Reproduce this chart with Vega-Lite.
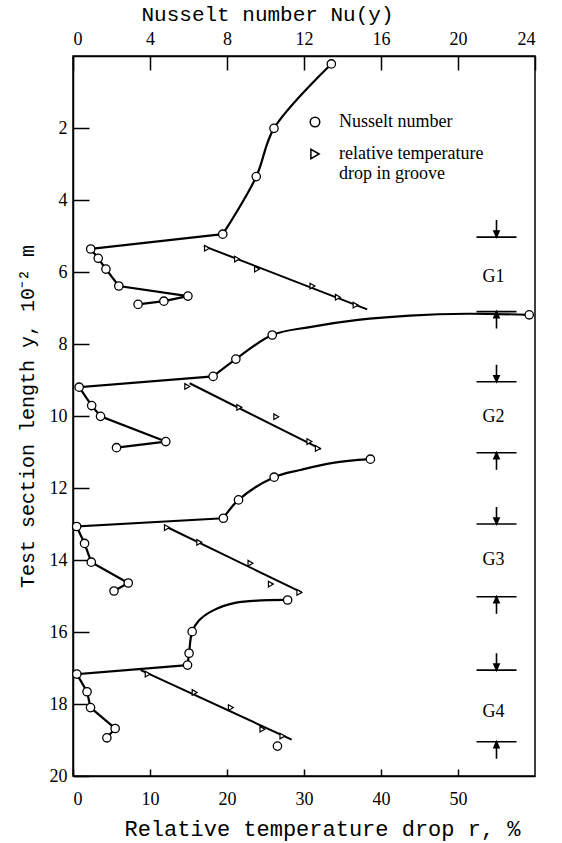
{
  "$schema": "https://vega.github.io/schema/vega-lite/v6.json",
  "width": 462,
  "height": 720,
  "autosize": {"type": "none"},
  "padding": {"left": 73, "top": 56, "right": 27, "bottom": 67},
  "background": "white",
  "config": {
    "view": {"stroke": "black", "strokeWidth": 1.5},
    "axis": {
      "domainColor": "black", "domainWidth": 1.5,
      "tickColor": "black", "tickWidth": 1.5,
      "labelColor": "black", "titleColor": "black",
      "labelFont": "Liberation Serif", "labelFontSize": 18,
      "titleFont": "Liberation Mono", "titleFontSize": 21, "titleFontWeight": "normal",
      "grid": false
    }
  },
  "datasets": {
    "nusselt": [
      {"g": "G1", "Nu": 13.42, "y": 0.22}, {"g": "G1", "Nu": 10.44, "y": 2.01}, {"g": "G1", "Nu": 9.52, "y": 3.35},
      {"g": "G1", "Nu": 7.78, "y": 4.95}, {"g": "G1", "Nu": 0.92, "y": 5.36}, {"g": "G1", "Nu": 1.31, "y": 5.62},
      {"g": "G1", "Nu": 1.71, "y": 5.92}, {"g": "G1", "Nu": 2.38, "y": 6.39}, {"g": "G1", "Nu": 5.97, "y": 6.67},
      {"g": "G1", "Nu": 4.72, "y": 6.81}, {"g": "G1", "Nu": 3.38, "y": 6.9},
      {"g": "G2", "Nu": 23.7, "y": 7.19}, {"g": "G2", "Nu": 10.35, "y": 7.75}, {"g": "G2", "Nu": 8.46, "y": 8.42},
      {"g": "G2", "Nu": 7.28, "y": 8.9}, {"g": "G2", "Nu": 0.32, "y": 9.2}, {"g": "G2", "Nu": 0.97, "y": 9.71},
      {"g": "G2", "Nu": 1.43, "y": 10.01}, {"g": "G2", "Nu": 4.82, "y": 10.71}, {"g": "G2", "Nu": 2.26, "y": 10.88},
      {"g": "G3", "Nu": 15.45, "y": 11.2}, {"g": "G3", "Nu": 10.45, "y": 11.7}, {"g": "G3", "Nu": 8.6, "y": 12.33},
      {"g": "G3", "Nu": 7.81, "y": 12.84}, {"g": "G3", "Nu": 0.19, "y": 13.07}, {"g": "G3", "Nu": 0.6, "y": 13.54},
      {"g": "G3", "Nu": 0.95, "y": 14.06}, {"g": "G3", "Nu": 2.87, "y": 14.64}, {"g": "G3", "Nu": 2.13, "y": 14.86},
      {"g": "G4", "Nu": 11.15, "y": 15.11}, {"g": "G4", "Nu": 6.19, "y": 15.99}, {"g": "G4", "Nu": 6.03, "y": 16.59},
      {"g": "G4", "Nu": 5.95, "y": 16.92}, {"g": "G4", "Nu": 0.2, "y": 17.17}, {"g": "G4", "Nu": 0.73, "y": 17.66},
      {"g": "G4", "Nu": 0.91, "y": 18.1}, {"g": "G4", "Nu": 2.19, "y": 18.68}, {"g": "G4", "Nu": 1.76, "y": 18.94},
      {"g": "G4", "Nu": 10.62, "y": 19.17}
    ],
    "nuPath": [
      {"seg": "G1 curve", "part": "curve", "k": 1, "Nu": 13.42, "y": 0.22},
      {"seg": "G1 curve", "part": "curve", "k": 2, "Nu": 10.44, "y": 2.01},
      {"seg": "G1 curve", "part": "curve", "k": 3, "Nu": 9.52, "y": 3.35},
      {"seg": "G1 curve", "part": "curve", "k": 4, "Nu": 7.78, "y": 4.95},
      {"seg": "G1 steps", "part": "steps", "k": 1, "Nu": 7.78, "y": 4.95},
      {"seg": "G1 steps", "part": "steps", "k": 2, "Nu": 0.92, "y": 5.36},
      {"seg": "G1 steps", "part": "steps", "k": 3, "Nu": 1.31, "y": 5.62},
      {"seg": "G1 steps", "part": "steps", "k": 4, "Nu": 1.71, "y": 5.92},
      {"seg": "G1 steps", "part": "steps", "k": 5, "Nu": 2.38, "y": 6.39},
      {"seg": "G1 steps", "part": "steps", "k": 6, "Nu": 5.97, "y": 6.67},
      {"seg": "G1 steps", "part": "steps", "k": 7, "Nu": 4.72, "y": 6.81},
      {"seg": "G1 steps", "part": "steps", "k": 8, "Nu": 3.38, "y": 6.9},
      {"seg": "G2 curve", "part": "curve", "k": 1, "Nu": 23.7, "y": 7.19},
      {"seg": "G2 curve", "part": "curve", "k": 2, "Nu": 20.5, "y": 7.16},
      {"seg": "G2 curve", "part": "curve", "k": 3, "Nu": 17.5, "y": 7.21},
      {"seg": "G2 curve", "part": "curve", "k": 4, "Nu": 14.8, "y": 7.33},
      {"seg": "G2 curve", "part": "curve", "k": 5, "Nu": 12.3, "y": 7.53},
      {"seg": "G2 curve", "part": "curve", "k": 6, "Nu": 10.35, "y": 7.75},
      {"seg": "G2 curve", "part": "curve", "k": 7, "Nu": 8.46, "y": 8.42},
      {"seg": "G2 curve", "part": "curve", "k": 8, "Nu": 7.28, "y": 8.9},
      {"seg": "G2 steps", "part": "steps", "k": 1, "Nu": 7.28, "y": 8.9},
      {"seg": "G2 steps", "part": "steps", "k": 2, "Nu": 0.32, "y": 9.2},
      {"seg": "G2 steps", "part": "steps", "k": 3, "Nu": 0.97, "y": 9.71},
      {"seg": "G2 steps", "part": "steps", "k": 4, "Nu": 1.43, "y": 10.01},
      {"seg": "G2 steps", "part": "steps", "k": 5, "Nu": 4.82, "y": 10.71},
      {"seg": "G2 steps", "part": "steps", "k": 6, "Nu": 2.26, "y": 10.88},
      {"seg": "G3 curve", "part": "curve", "k": 1, "Nu": 15.45, "y": 11.2},
      {"seg": "G3 curve", "part": "curve", "k": 2, "Nu": 13.5, "y": 11.3},
      {"seg": "G3 curve", "part": "curve", "k": 3, "Nu": 11.8, "y": 11.5},
      {"seg": "G3 curve", "part": "curve", "k": 4, "Nu": 10.45, "y": 11.7},
      {"seg": "G3 curve", "part": "curve", "k": 5, "Nu": 8.6, "y": 12.33},
      {"seg": "G3 curve", "part": "curve", "k": 6, "Nu": 7.81, "y": 12.84},
      {"seg": "G3 steps", "part": "steps", "k": 1, "Nu": 7.81, "y": 12.84},
      {"seg": "G3 steps", "part": "steps", "k": 2, "Nu": 0.19, "y": 13.07},
      {"seg": "G3 steps", "part": "steps", "k": 3, "Nu": 0.6, "y": 13.54},
      {"seg": "G3 steps", "part": "steps", "k": 4, "Nu": 0.95, "y": 14.06},
      {"seg": "G3 steps", "part": "steps", "k": 5, "Nu": 2.87, "y": 14.64},
      {"seg": "G3 steps", "part": "steps", "k": 6, "Nu": 2.13, "y": 14.86},
      {"seg": "G4 curve", "part": "curve", "k": 1, "Nu": 11.15, "y": 15.11},
      {"seg": "G4 curve", "part": "curve", "k": 2, "Nu": 8.42, "y": 15.19},
      {"seg": "G4 curve", "part": "curve", "k": 3, "Nu": 7.21, "y": 15.42},
      {"seg": "G4 curve", "part": "curve", "k": 4, "Nu": 6.53, "y": 15.69},
      {"seg": "G4 curve", "part": "curve", "k": 5, "Nu": 6.19, "y": 15.99},
      {"seg": "G4 curve", "part": "curve", "k": 6, "Nu": 6.03, "y": 16.59},
      {"seg": "G4 curve", "part": "curve", "k": 7, "Nu": 5.95, "y": 16.92},
      {"seg": "G4 steps", "part": "steps", "k": 1, "Nu": 5.95, "y": 16.92},
      {"seg": "G4 steps", "part": "steps", "k": 2, "Nu": 0.2, "y": 17.17},
      {"seg": "G4 steps", "part": "steps", "k": 3, "Nu": 0.73, "y": 17.66},
      {"seg": "G4 steps", "part": "steps", "k": 4, "Nu": 0.91, "y": 18.1},
      {"seg": "G4 steps", "part": "steps", "k": 5, "Nu": 2.19, "y": 18.68},
      {"seg": "G4 steps", "part": "steps", "k": 6, "Nu": 1.76, "y": 18.94}
    ],
    "drop": [
      {"g": "G1", "r": 17.4, "y": 5.34}, {"g": "G1", "r": 21.3, "y": 5.64}, {"g": "G1", "r": 23.9, "y": 5.92},
      {"g": "G1", "r": 31.1, "y": 6.39}, {"g": "G1", "r": 34.4, "y": 6.7}, {"g": "G1", "r": 36.7, "y": 6.92},
      {"g": "G2", "r": 14.84, "y": 9.18}, {"g": "G2", "r": 21.6, "y": 9.76}, {"g": "G2", "r": 26.4, "y": 10.02},
      {"g": "G2", "r": 30.7, "y": 10.71}, {"g": "G2", "r": 31.8, "y": 10.9},
      {"g": "G3", "r": 12.2, "y": 13.1}, {"g": "G3", "r": 16.4, "y": 13.51}, {"g": "G3", "r": 23.05, "y": 14.09},
      {"g": "G3", "r": 25.7, "y": 14.67}, {"g": "G3", "r": 29.4, "y": 14.9},
      {"g": "G4", "r": 9.7, "y": 17.17}, {"g": "G4", "r": 15.8, "y": 17.68}, {"g": "G4", "r": 20.5, "y": 18.1},
      {"g": "G4", "r": 24.6, "y": 18.7}, {"g": "G4", "r": 27.2, "y": 18.89}
    ],
    "dropFit": [
      {"g": "G1", "k": 1, "r": 17.0, "y": 5.28}, {"g": "G1", "k": 2, "r": 38.2, "y": 7.04},
      {"g": "G2", "k": 1, "r": 15.15, "y": 9.09}, {"g": "G2", "k": 2, "r": 32.2, "y": 10.92},
      {"g": "G3", "k": 1, "r": 12.05, "y": 13.07}, {"g": "G3", "k": 2, "r": 29.7, "y": 14.9},
      {"g": "G4", "k": 1, "r": 8.8, "y": 17.06}, {"g": "G4", "k": 2, "r": 28.4, "y": 18.99}
    ],
    "bounds": [
      {"g": "G1", "y": 5.03, "dir": "down"}, {"g": "G1", "y": 7.1, "dir": "up"},
      {"g": "G2", "y": 9.05, "dir": "down"}, {"g": "G2", "y": 11.02, "dir": "up"},
      {"g": "G3", "y": 13.0, "dir": "down"}, {"g": "G3", "y": 15.02, "dir": "up"},
      {"g": "G4", "y": 17.06, "dir": "down"}, {"g": "G4", "y": 19.05, "dir": "up"}
    ],
    "grooves": [
      {"name": "G1", "y": 6.13}, {"name": "G2", "y": 10.02}, {"name": "G3", "y": 14.0}, {"name": "G4", "y": 18.22}
    ]
  },
  "layer": [
    {
      "layer": [
        {
          "data": {"name": "nuPath"},
          "transform": [{"filter": "datum.part == 'curve'"}],
          "mark": {"type": "line", "interpolate": "catmull-rom", "color": "black", "strokeWidth": 2.2},
          "encoding": {
            "x": {"field": "Nu", "type": "quantitative", "scale": {"domain": [0, 24], "nice": false}},
            "y": {"field": "y", "type": "quantitative", "scale": {"domain": [0, 20], "reverse": true, "nice": false}},
            "detail": {"field": "seg"},
            "order": {"field": "k"}
          }
        },
        {
          "data": {"name": "nuPath"},
          "transform": [{"filter": "datum.part == 'steps'"}],
          "mark": {"type": "line", "color": "black", "strokeWidth": 2.2},
          "encoding": {
            "x": {"field": "Nu", "type": "quantitative", "scale": {"domain": [0, 24], "nice": false}},
            "y": {"field": "y", "type": "quantitative", "scale": {"domain": [0, 20], "reverse": true, "nice": false}},
            "detail": {"field": "seg"},
            "order": {"field": "k"}
          }
        },
        {
          "data": {"name": "nusselt"},
          "mark": {"type": "point", "filled": true, "fill": "white", "stroke": "black", "strokeWidth": 1.3, "size": 70, "opacity": 1},
          "encoding": {
            "x": {
              "field": "Nu", "type": "quantitative", "scale": {"domain": [0, 24], "nice": false},
              "axis": {
                "orient": "top", "values": [0, 2, 4, 6, 8, 10, 12, 14, 16, 18, 20, 22, 24],
                "labelExpr": "datum.value % 4 == 0 ? datum.label : ''",
                "tickSize": {"condition": {"test": "datum.value % 4 == 0", "value": -14}, "value": -7},
                "labelPadding": 22, "title": "Nusselt number Nu(y)", "titlePadding": 6, "titleX": 194
              }
            },
            "y": {
              "field": "y", "type": "quantitative", "scale": {"domain": [0, 20], "reverse": true, "nice": false},
              "axis": {
                "orient": "left", "values": [2, 4, 6, 8, 10, 12, 14, 16, 18, 20],
                "tickSize": -16, "labelPadding": 22,
                "title": "Test section length y, 10⁻² m", "titlePadding": 12, "titleFontSize": 20
              }
            },
            "shape": {
              "datum": "Nusselt number",
              "scale": {"domain": ["Nusselt number", "relative temperature drop in groove"], "range": ["circle", "triangle-right"]},
              "legend": {
                "orient": "none", "legendX": 233, "legendY": 57, "title": null,
                "labelFont": "Liberation Serif", "labelFontSize": 18, "labelColor": "black",
                "symbolSize": 90, "labelOffset": 15, "rowPadding": 14, "padding": 0,
                "labelExpr": "datum.label == 'relative temperature drop in groove' ? ['relative temperature', 'drop in groove'] : datum.label",
                "encode": {
                  "symbols": {
                    "update": {
                      "fill": {"value": "white"},
                      "stroke": {"value": "black"},
                      "strokeWidth": {"value": 1.3},
                      "opacity": {"value": 1}
                    }
                  }
                }
              }
            }
          }
        }
      ]
    },
    {
      "layer": [
        {
          "data": {"name": "dropFit"},
          "mark": {"type": "line", "color": "black", "strokeWidth": 2},
          "encoding": {
            "x": {"field": "r", "type": "quantitative", "scale": {"domain": [0, 60], "nice": false}},
            "y": {"field": "y", "type": "quantitative", "scale": {"domain": [0, 20], "reverse": true, "nice": false}},
            "detail": {"field": "g"},
            "order": {"field": "k"}
          }
        },
        {
          "data": {"name": "drop"},
          "mark": {"type": "point", "filled": true, "fill": "white", "stroke": "black", "strokeWidth": 1.2, "size": 32, "opacity": 1},
          "encoding": {
            "x": {
              "field": "r", "type": "quantitative", "scale": {"domain": [0, 60], "nice": false},
              "axis": {
                "orient": "bottom", "values": [0, 10, 20, 30, 40, 50],
                "tickSize": -7, "labelPadding": 21,
                "title": "Relative temperature drop r, %", "titlePadding": 10, "titleFontSize": 22, "titleX": 249
              }
            },
            "y": {"field": "y", "type": "quantitative", "scale": {"domain": [0, 20], "reverse": true, "nice": false}},
            "shape": {
              "datum": "relative temperature drop in groove",
              "scale": {"domain": ["Nusselt number", "relative temperature drop in groove"], "range": ["circle", "triangle-right"]}
            }
          }
        },
        {
          "data": {"name": "bounds"},
          "transform": [{"filter": "datum.dir == 'down'"}],
          "mark": {"type": "point", "shape": "M-1,0L1,0M0,-0.85L0,0M-0.13,-0.3L0.13,-0.3L0,0Z", "size": 1600, "filled": true, "fill": "black", "stroke": "black", "strokeWidth": 1.6, "opacity": 1},
          "encoding": {
            "x": {"datum": 55, "type": "quantitative", "scale": {"domain": [0, 60], "nice": false}},
            "y": {"field": "y", "type": "quantitative", "scale": {"domain": [0, 20], "reverse": true, "nice": false}}
          }
        },
        {
          "data": {"name": "bounds"},
          "transform": [{"filter": "datum.dir == 'up'"}],
          "mark": {"type": "point", "shape": "M-1,0L1,0M0,0.85L0,0M-0.13,0.3L0.13,0.3L0,0Z", "size": 1600, "filled": true, "fill": "black", "stroke": "black", "strokeWidth": 1.6, "opacity": 1},
          "encoding": {
            "x": {"datum": 55, "type": "quantitative", "scale": {"domain": [0, 60], "nice": false}},
            "y": {"field": "y", "type": "quantitative", "scale": {"domain": [0, 20], "reverse": true, "nice": false}}
          }
        },
        {
          "data": {"name": "grooves"},
          "mark": {"type": "text", "font": "Liberation Serif", "fontSize": 18, "color": "black", "align": "center", "baseline": "middle"},
          "encoding": {
            "x": {"datum": 54.6, "type": "quantitative", "scale": {"domain": [0, 60], "nice": false}},
            "y": {"field": "y", "type": "quantitative", "scale": {"domain": [0, 20], "reverse": true, "nice": false}},
            "text": {"field": "name"}
          }
        }
      ]
    }
  ],
  "resolve": {"scale": {"x": "independent"}}
}
